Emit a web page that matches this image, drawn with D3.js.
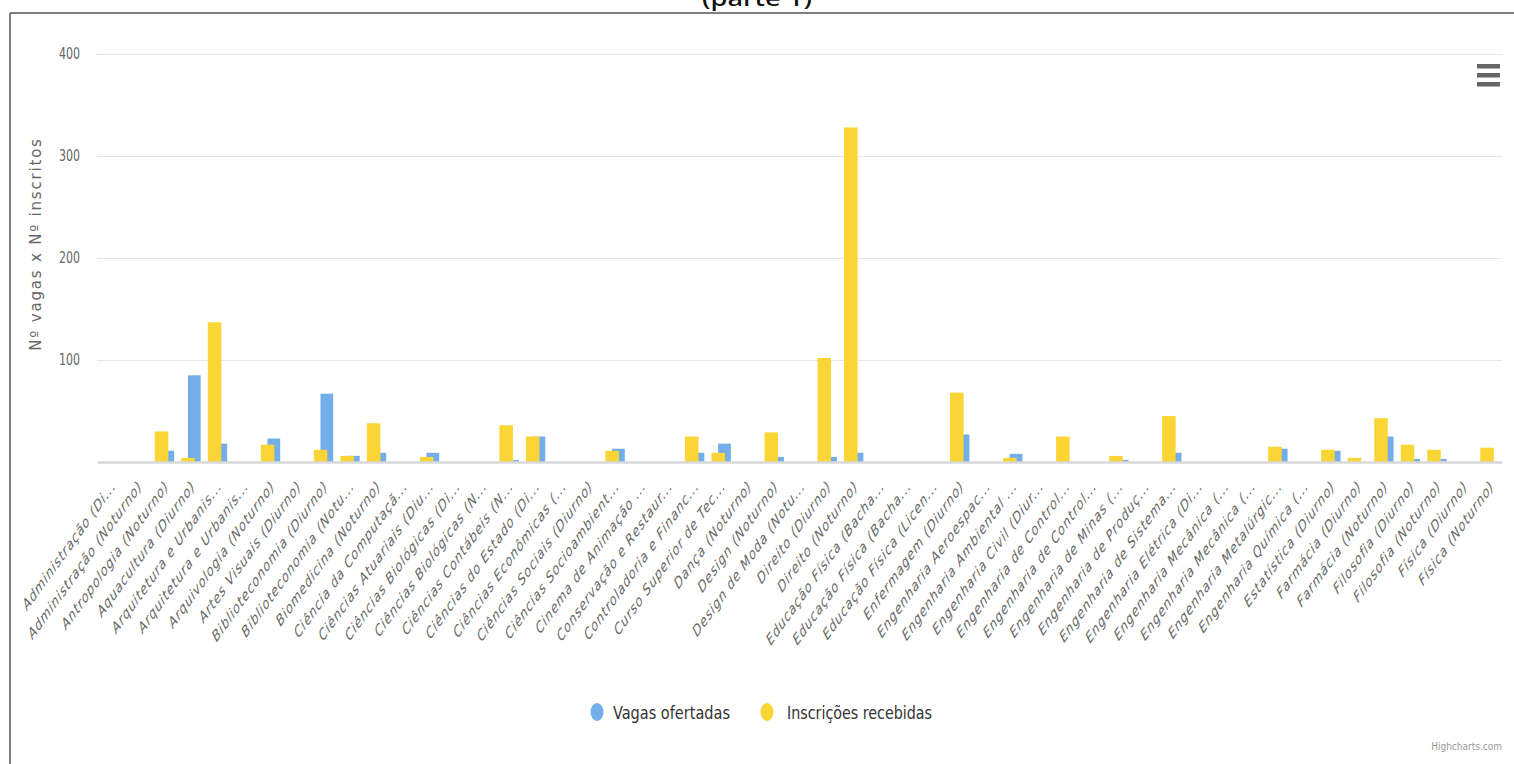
<!DOCTYPE html>
<html>
<head>
<meta charset="utf-8">
<script src="https://cdn.jsdelivr.net/npm/d3@7"></script>
<style>
  html, body { margin: 0; padding: 0; background: #fff; }
  svg { display: block; }
</style>
</head>
<body>
<script>
// ---------- DATA ----------
const categories = [
  "Administração (Di...", "Administração (Noturno)", "Antropologia (Noturno)", "Aquacultura (Diurno)",
  "Arquitetura e Urbanis...", "Arquitetura e Urbanis...", "Arquivologia (Noturno)", "Artes Visuais (Diurno)",
  "Biblioteconomia (Diurno)", "Biblioteconomia (Notu...", "Biomedicina (Noturno)", "Ciência da Computaçã...",
  "Ciências Atuariais (Diu...", "Ciências Biológicas (Di...", "Ciências Biológicas (N...", "Ciências Contábeis (N...",
  "Ciências do Estado (Di...", "Ciências Econômicas (...", "Ciências Sociais (Diurno)", "Ciências Socioambient...",
  "Cinema de Animação ...", "Conservação e Restaur...", "Controladoria e Financ...", "Curso Superior de Tec...",
  "Dança (Noturno)", "Design (Noturno)", "Design de Moda (Notu...", "Direito (Diurno)",
  "Direito (Noturno)", "Educação Física (Bacha...", "Educação Física (Bacha...", "Educação Física (Licen...",
  "Enfermagem (Diurno)", "Engenharia Aeroespac...", "Engenharia Ambiental ...", "Engenharia Civil (Diur...",
  "Engenharia de Control...", "Engenharia de Control...", "Engenharia de Minas (...", "Engenharia de Produç...",
  "Engenharia de Sistema...", "Engenharia Elétrica (Di...", "Engenharia Mecânica (...", "Engenharia Mecânica (...",
  "Engenharia Metalúrgic...", "Engenharia Química (...", "Estatística (Diurno)", "Farmácia (Diurno)",
  "Farmácia (Noturno)", "Filosofia (Diurno)", "Filosofia (Noturno)", "Física (Diurno)", "Física (Noturno)"
];
const vagasOfertadas = [
  0, 0, 11, 85, 18, 0, 23, 0, 67, 6, 9, 0, 9, 0, 0, 2, 25, 0, 0, 13, 0, 0, 9, 18, 0, 5, 0, 5,
  9, 0, 0, 0, 27, 0, 8, 0, 0, 0, 2, 0, 9, 0, 0, 0, 13, 0, 11, 0, 25, 3, 3, 0, 0
];
const inscricoesRecebidas = [
  0, 0, 30, 4, 137, 0, 17, 0, 12, 6, 38, 0, 5, 0, 0, 36, 25, 0, 0, 11, 0, 0, 25, 9, 0, 29, 0, 102,
  328, 0, 0, 0, 68, 0, 4, 0, 25, 0, 6, 0, 45, 0, 0, 0, 15, 0, 12, 4, 43, 17, 12, 0, 14
];
const yTicks = [100, 200, 300, 400];
const seriesNames = ["Vagas ofertadas", "Inscrições recebidas"];
const chartTitle = "(parte 1)";
const yAxisTitle = "Nº vagas x Nº inscritos";
const creditText = "Highcharts.com";

// ---------- LAYOUT ----------
const W = 1514, H = 764;
const plot = { left: 97, right: 1502, top: 54, bottom: 462 };
const colors = { blue: "#74aeea", yellow: "#fad535" };

const svg = d3.select("body").append("svg").attr("width", W).attr("height", H);

// Title (cut at top, as in the reference)
svg.append("text")
  .attr("x", 757).attr("y", 6)
  .attr("text-anchor", "middle")
  .attr("font-family", "Noto Sans, Liberation Sans, sans-serif")
  .attr("font-size", 22).attr("font-weight", 500).attr("fill", "#111")
  .attr("textLength", 110).attr("lengthAdjust", "spacingAndGlyphs")
  .text(chartTitle);

// Frame
svg.append("line").attr("x1", 10).attr("x2", W).attr("y1", 13).attr("y2", 13)
  .attr("stroke", "#555").attr("stroke-width", 1.5);
svg.append("line").attr("x1", 10).attr("x2", 10).attr("y1", 13).attr("y2", H)
  .attr("stroke", "#555").attr("stroke-width", 1.5);

// Scales
const idx = d3.range(categories.length);
const x = d3.scaleBand().domain(idx).range([plot.left, plot.right]).padding(0);
const y = d3.scaleLinear().domain([0, 400]).range([plot.bottom, plot.top]);
const bw = x.bandwidth();

// Gridlines + y tick labels
const yAxis = d3.axisLeft(y).tickValues(yTicks).tickSize(-(plot.right - plot.left)).tickPadding(17);
const gy = svg.append("g").attr("transform", `translate(${plot.left},0)`).call(yAxis);
gy.select(".domain").remove();
gy.selectAll(".tick line").attr("stroke", "#e6e6e6").attr("stroke-width", 1.2);
gy.selectAll(".tick text")
  .attr("fill", "#666")
  .attr("font-family", "DejaVu Sans Condensed, Liberation Sans, sans-serif")
  .attr("font-size", 15)
  .attr("textLength", 21).attr("lengthAdjust", "spacingAndGlyphs");

// Y title
svg.append("text")
  .attr("transform", `translate(41,244) rotate(-90)`)
  .attr("text-anchor", "middle")
  .attr("font-family", "DejaVu Sans, sans-serif")
  .attr("font-size", 15).attr("fill", "#666")
  .attr("letter-spacing", 1.8)
  .text(yAxisTitle);

// Bars: blue behind, yellow in front (overlapping, yellow to the left)
const gBars = svg.append("g");
gBars.selectAll("rect.vagas").data(idx).join("rect")
  .attr("class", "vagas")
  .attr("x", i => x(i) + bw * 0.43)
  .attr("width", bw * 0.48)
  .attr("y", i => y(vagasOfertadas[i]))
  .attr("height", i => y(0) - y(vagasOfertadas[i]))
  .attr("fill", colors.blue);
gBars.selectAll("rect.insc").data(idx).join("rect")
  .attr("class", "insc")
  .attr("x", i => x(i) + bw * 0.18)
  .attr("width", bw * 0.51)
  .attr("y", i => y(inscricoesRecebidas[i]))
  .attr("height", i => y(0) - y(inscricoesRecebidas[i]))
  .attr("fill", colors.yellow);

// X axis
const xAxis = d3.axisBottom(x).tickSize(0).tickFormat(i => categories[i]);
const gx = svg.append("g").attr("transform", `translate(0,${plot.bottom})`).call(xAxis);
gx.select(".domain").attr("stroke", "#d9d9d9").attr("stroke-width", 2.5);
gx.selectAll(".tick text")
  .attr("fill", "#666")
  .attr("font-family", "DejaVu Sans, sans-serif")
  .attr("font-style", "italic")
  .attr("font-size", 15.5)
  .attr("letter-spacing", 1.1)
  .attr("text-anchor", "end")
  .attr("y", 0).attr("dy", 0)
  .attr("transform", `translate(6,25) scale(0.72,1) rotate(-45)`);

// Legend
const legend = svg.append("g");
const legendItems = [
  { name: seriesNames[0], color: colors.blue, cx: 597, tx: 613, len: 117 },
  { name: seriesNames[1], color: colors.yellow, cx: 767, tx: 787, len: 145 }
];
legendItems.forEach(d => {
  legend.append("ellipse").attr("cx", d.cx).attr("cy", 712).attr("rx", 6.5).attr("ry", 9).attr("fill", d.color);
  legend.append("text").attr("x", d.tx).attr("y", 719)
    .attr("font-family", "DejaVu Sans Condensed, Liberation Sans, sans-serif")
    .attr("font-size", 17).attr("fill", "#333")
    .attr("textLength", d.len).attr("lengthAdjust", "spacingAndGlyphs")
    .text(d.name);
});

// Menu icon
[0, 1, 2].forEach(k => {
  svg.append("rect").attr("x", 1477).attr("y", 64 + k * 9).attr("width", 23).attr("height", 4.5)
    .attr("fill", "#666");
});

// Credits
svg.append("text").attr("x", 1502).attr("y", 750).attr("text-anchor", "end")
  .attr("font-family", "DejaVu Sans Condensed, Liberation Sans, sans-serif")
  .attr("font-size", 10).attr("fill", "#999")
  .text(creditText);
</script>
</body>
</html>
